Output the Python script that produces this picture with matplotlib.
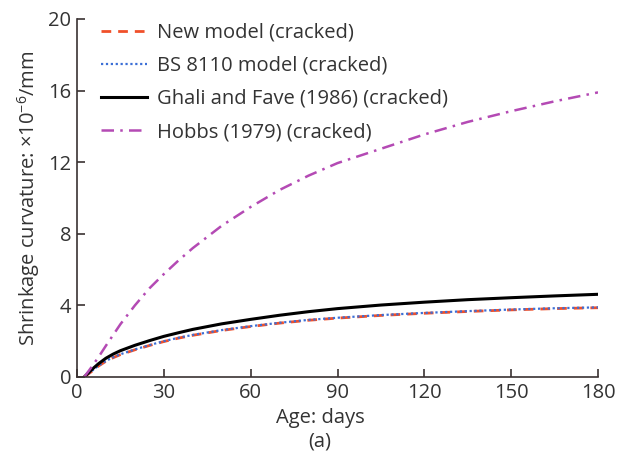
import matplotlib
matplotlib.use("Agg")
import matplotlib.pyplot as plt

plt.rcParams['font.family'] = ['Open Sans', 'DejaVu Sans']
plt.rcParams['mathtext.fontset'] = 'custom'
plt.rcParams['mathtext.rm'] = 'Open Sans'
plt.rcParams['mathtext.it'] = 'Open Sans'

days = [2.5, 5, 7.5, 10, 12.5, 15, 20, 25, 30, 35, 40, 50, 60, 70, 80, 90, 105, 120, 135, 150, 165, 180]
new_model = [0, 0.3, 0.62, 0.88, 1.08, 1.25, 1.52, 1.76, 1.98, 2.17, 2.33, 2.6, 2.82, 3.01, 3.17, 3.29,
             3.44, 3.56, 3.66, 3.75, 3.82, 3.87]
bs8110 = [0, 0.32, 0.64, 0.9, 1.1, 1.27, 1.54, 1.78, 2.0, 2.19, 2.35, 2.62, 2.84, 3.03, 3.19, 3.31,
          3.46, 3.58, 3.68, 3.77, 3.84, 3.89]
ghali = [0, 0.4, 0.75, 1.05, 1.28, 1.47, 1.77, 2.03, 2.27, 2.47, 2.66, 2.97, 3.22, 3.45, 3.65, 3.82,
         4.02, 4.18, 4.32, 4.43, 4.53, 4.62]
hobbs = [0, 0.55, 1.13, 1.75, 2.35, 2.95, 4.0, 4.95, 5.75, 6.5, 7.2, 8.45, 9.5, 10.45, 11.25, 11.95,
         12.75, 13.55, 14.25, 14.85, 15.4, 15.9]

labels = ['New model (cracked)', 'BS 8110 model (cracked)',
          'Ghali and Fave (1986) (cracked)', 'Hobbs (1979) (cracked)']
xticks = [0, 30, 60, 90, 120, 150, 180]
yticks = [0, 4, 8, 12, 16, 20]

tc = '#333333'
fig = plt.figure(figsize=(6.23, 4.53), dpi=100)
ax = fig.add_axes([77/623, 1-377/453, (598-77)/623, (377-19)/453])

ax.plot(days, new_model, color='#f0502a', lw=2, ls=(0, (3.5, 2.5)), label=labels[0])
ax.plot(days, bs8110, color='#3c6fd6', lw=1.6, ls=(0, (1, 1.2)), label=labels[1])
ax.plot(days, ghali, color='black', lw=2.2, ls='-', label=labels[2])
ax.plot(days, hobbs, color='#b44ab4', lw=1.8, ls=(0, (5, 2.5, 1, 2.5)), label=labels[3])

ax.set_xlim(0, 180)
ax.set_ylim(0, 20)
ax.set_xticks(xticks)
ax.set_yticks(yticks)
for s in ['top', 'right']:
    ax.spines[s].set_visible(False)
for s in ['left', 'bottom']:
    ax.spines[s].set_color('#3a3232')
    ax.spines[s].set_linewidth(1.2)
ax.tick_params(direction='in', length=6, width=1.2, color='#3a3232',
               labelsize=14.5, labelcolor=tc, pad=4)

leg = ax.legend(loc='upper left', bbox_to_anchor=(0.03, 1.012), frameon=False,
                fontsize=14.5, handlelength=2.3, handletextpad=0.5,
                labelspacing=0.65, borderaxespad=0)
for t in leg.get_texts():
    t.set_color(tc)

fig.text(320/623, 1-418/453, 'Age: days', ha='center', va='center', fontsize=14.5, color=tc)
fig.text(320/623, 1-441/453, '(a)', ha='center', va='center', fontsize=14.5, color=tc)
fig.text(29/623, 1-198/453, r'Shrinkage curvature: ×10$^{-6}$/mm', ha='center', va='center',
         rotation=90, fontsize=14.5, color=tc)

fig.savefig('out.png', dpi=100)
